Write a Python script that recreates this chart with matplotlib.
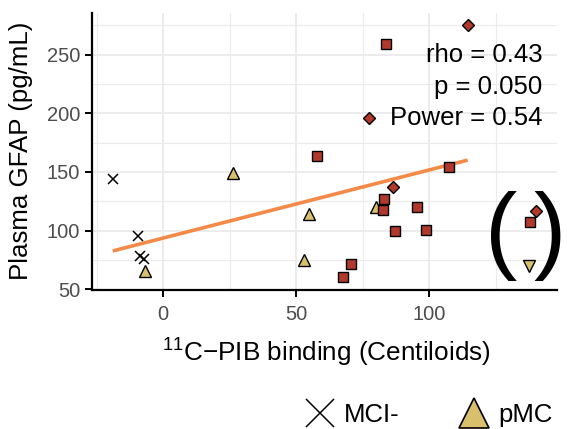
import numpy as np
import matplotlib
matplotlib.use("Agg")
import matplotlib.pyplot as plt
from matplotlib.lines import Line2D

plt.rcParams['font.family'] = ['Liberation Sans', 'DejaVu Sans']
plt.rcParams['mathtext.fontset'] = 'custom'
plt.rcParams['mathtext.rm'] = 'Liberation Sans'
plt.rcParams['mathtext.it'] = 'Liberation Sans:italic'

#---------------------------------------------------
# Centiloid (x) vs plasma GFAP (y) per group
mci_neg_x = [-19.0, -9.5, -8.9, -7.4]
mci_neg_y = [144.0, 95.2, 78.0, 76.0]

pmc_x = [-6.9, 26.2, 54.9, 52.9, 80.1]
pmc_y = [65.9, 148.8, 113.9, 75.0, 120.4]

sq_x = [83.7, 57.9, 107.3, 83.1, 82.6, 95.5, 87.1, 98.6, 70.6, 67.4]
sq_y = [259.3, 163.3, 154.5, 126.9, 117.8, 120.1, 99.7, 100.5, 71.8, 60.5]

dia_x = [114.4, 86.5, 77.5]
dia_y = [275.0, 137.4, 196.2]

# excluded points, shown inside the brackets
out_sq_x, out_sq_y = [137.8], [107.0]
out_dia_x, out_dia_y = [140.0], [117.0]
out_tri_x, out_tri_y = [137.6], [70.1]

stats_lines = ["rho = 0.43", "p = 0.050", "Power = 0.54"]
legend_labels = ["MCI-", "pMC"]

red = "#B0392C"
yellow = "#D8BF6C"
orange = "#F38A48"
grid_col = "#EBEBEB"
tick_col = "#4D4D4D"

#---------------------------------------------------
def main():
    fig = plt.figure(figsize=(5.67, 4.29), dpi=100)
    ax = fig.add_axes([92/567, 1 - 289.5/429, 465/567, 276.5/429])

    # grid: major + minor, light grey
    for v in [-25, 25, 75, 125]:
        ax.axvline(v, color=grid_col, lw=0.8, zorder=0)
    for v in [0, 50, 100]:
        ax.axvline(v, color=grid_col, lw=1.3, zorder=0)
    for v in [75, 125, 175, 225, 275]:
        ax.axhline(v, color=grid_col, lw=0.8, zorder=0)
    for v in [100, 150, 200, 250]:
        ax.axhline(v, color=grid_col, lw=1.3, zorder=0)

    # linear fit over the in-range points
    all_x = np.array(mci_neg_x + pmc_x + sq_x + dia_x)
    all_y = np.array(mci_neg_y + pmc_y + sq_y + dia_y)
    slope, icpt = np.polyfit(all_x, all_y, 1)
    xs = np.array([all_x.min(), all_x.max()])
    ax.plot(xs, icpt + slope*xs, color=orange, lw=2.6, solid_capstyle='butt', zorder=2)

    ax.plot(mci_neg_x, mci_neg_y, 'x', color='black', ms=7.5, mew=1.1, zorder=3)
    ax.plot(pmc_x, pmc_y, '^', mfc=yellow, mec='black', ms=9, mew=1.0, zorder=3)
    ax.plot(sq_x, sq_y, 's', mfc=red, mec='black', ms=6.5, mew=1.0, zorder=3)
    ax.plot(dia_x, dia_y, 'D', mfc=red, mec='black', ms=6.5, mew=1.0, zorder=3)

    ax.plot(out_sq_x, out_sq_y, 's', mfc=red, mec='black', ms=6.5, mew=1.0, zorder=3)
    ax.plot(out_dia_x, out_dia_y, 'D', mfc=red, mec='black', ms=6.5, mew=1.0, zorder=3)
    ax.plot(out_tri_x, out_tri_y, 'v', mfc=yellow, mec='black', ms=9, mew=1.0, zorder=3)

    # brackets around the excluded points
    ax.text(127.0, 95.0, "(", fontsize=70, ha='center', va='center', clip_on=False)
    ax.text(145.3, 95.0, ")", fontsize=70, ha='center', va='center', clip_on=False)

    # stats text, right aligned
    for s, yv in zip(stats_lines, [249.6, 222.6, 196.0]):
        ax.text(142.6, yv, s, fontsize=18.5, ha='right', va='center', zorder=4)

    ax.set_xlim(-26.8, 148.0)
    ax.set_ylim(49.8, 285.4)
    ax.set_xticks([0, 50, 100])
    ax.set_yticks([50, 100, 150, 200, 250])

    for side in ['top', 'right']:
        ax.spines[side].set_visible(False)
    for side in ['left', 'bottom']:
        ax.spines[side].set_linewidth(1.6)
    ax.tick_params(length=5, width=1.4, labelsize=14.5, labelcolor=tick_col)
    ax.tick_params(axis='x', pad=6)
    ax.tick_params(axis='y', pad=3.5)

    ax.set_xlabel(r"$^{11}$C$-$PIB binding (Centiloids)", fontsize=18.8)
    ax.set_ylabel("Plasma GFAP (pg/mL)", fontsize=18.6)
    ax.xaxis.set_label_coords(0.505, -0.172)
    ax.yaxis.set_label_coords(-0.126, 0.5)

    handles = [Line2D([], [], ls='none', marker='x', color='black', ms=20, mew=1.1),
               Line2D([], [], ls='none', marker='^', mfc=yellow, mec='black', ms=21, mew=1.2)]
    fig.legend(handles, legend_labels, loc='upper left', bbox_to_anchor=(304.6/567, 1 - 403/429),
               ncol=2, frameon=False, fontsize=18.5, handlelength=1.2, handletextpad=0.33,
               columnspacing=2.3, borderpad=0, borderaxespad=0)

    fig.savefig("out.png", dpi=100)
#---------------------------------------------------
if __name__ == "__main__":
    main()
